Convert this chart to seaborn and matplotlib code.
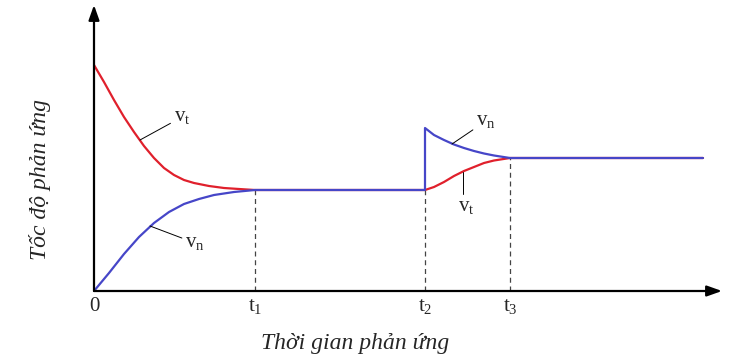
import numpy as np
import pandas as pd
import matplotlib
matplotlib.use('Agg')
import matplotlib.pyplot as plt
import seaborn as sns

# =============================================================
# DATA (time / rate in chart units)
# =============================================================
T_EVENTS    = [161, 331, 416]          # t1, t2, t3
TICK_LABELS = ['0', r'$\mathregular{t_1}$', r'$\mathregular{t_2}$', r'$\mathregular{t_3}$']

vt_time = [0, 10, 20, 30, 40, 50, 60, 70, 80, 90, 100, 115, 130, 145, 161,
           331, 340, 350, 360, 370, 380, 390, 400, 416, 609]
vt_rate = [226, 209, 191, 174, 159, 145, 133, 123, 116, 111, 108, 105, 103, 102, 101,
           101, 104, 109, 115, 120, 124, 128, 130.5, 133, 133]

vn_time = [0, 15, 30, 45, 60, 75, 90, 105, 120, 140, 161,
           331, 331, 340, 350, 360, 370, 380, 390, 400, 416, 609]
vn_rate = [0, 18, 37, 54, 68, 79, 87, 92, 96, 99, 101,
           101, 163, 156, 151, 146.5, 143, 140, 137.5, 135.5, 133, 133]

# level at each event line (where the dashed guide stops)
event_levels = [101, 101, 133]

RED  = '#e0202c'
BLUE = '#4646c8'

# =============================================================
# STYLE
# =============================================================
sns.set_style('white')
plt.rcParams['font.family'] = ['Liberation Serif', 'DejaVu Serif']
plt.rcParams['mathtext.fontset'] = 'custom'
plt.rcParams['mathtext.rm'] = 'Liberation Serif'
plt.rcParams['mathtext.it'] = 'Liberation Serif:italic'

fig = plt.figure(figsize=(7.47, 3.62), dpi=100)
ax = fig.add_axes([94 / 747, 71 / 362, 628 / 747, 286 / 362])
ax.set_xlim(0, 628)
ax.set_ylim(0, 286)

df_vt = pd.DataFrame({'time': vt_time, 'rate': vt_rate})
df_vn = pd.DataFrame({'time': vn_time, 'rate': vn_rate})

sns.lineplot(data=df_vt, x='time', y='rate', ax=ax, color=RED, lw=1.6,
             sort=False, estimator=None)
sns.lineplot(data=df_vn, x='time', y='rate', ax=ax, color=BLUE, lw=1.6,
             sort=False, estimator=None)

# dashed guides
for t, lev in zip(T_EVENTS, event_levels):
    ax.plot([t, t], [0, lev], ls=(0, (4, 3)), color='#444444', lw=0.9, zorder=1)

# axes with arrows
for spine in ax.spines.values():
    spine.set_visible(False)
arrow = dict(arrowstyle='-|>,head_length=0.9,head_width=0.32', lw=1.6,
             color='black', shrinkA=0, shrinkB=0)
ax.annotate('', xy=(628, 0), xytext=(0, 0), arrowprops=arrow,
            annotation_clip=False)
ax.annotate('', xy=(0, 286), xytext=(0, 0), arrowprops=arrow,
            annotation_clip=False)

ax.set_xticks([0] + T_EVENTS, TICK_LABELS, fontsize=15)
ax.set_yticks([])
ax.tick_params(axis='x', length=0, pad=4)

# curve labels with leader lines
leader = dict(arrowstyle='-', lw=0.7, color='black', shrinkA=0, shrinkB=0)
ax.annotate(r'$\mathregular{v_t}$', xy=(46, 151), xytext=(88, 174),
            fontsize=15, ha='center', va='center', arrowprops=leader)
ax.annotate(r'$\mathregular{v_n}$', xy=(56, 65), xytext=(101, 48),
            fontsize=15, ha='center', va='center', arrowprops=leader)
ax.annotate(r'$\mathregular{v_n}$', xy=(358, 147), xytext=(392, 170),
            fontsize=15, ha='center', va='center', arrowprops=leader)
ax.text(372, 85, r'$\mathregular{v_t}$', fontsize=15, ha='center', va='center')
ax.plot([369, 369], [119, 97], color='black', lw=0.7)

ax.set_xlabel('')
ax.set_ylabel('')
fig.text(355 / 747, 1 - 343 / 362, 'Thời gian phản ứng', fontsize=17,
         style='italic', ha='center', va='center')
fig.text(40 / 747, 1 - 180 / 362, 'Tốc độ phản ứng', fontsize=17,
         style='italic', ha='center', va='center', rotation=90)

fig.savefig('out.png', dpi=100)
